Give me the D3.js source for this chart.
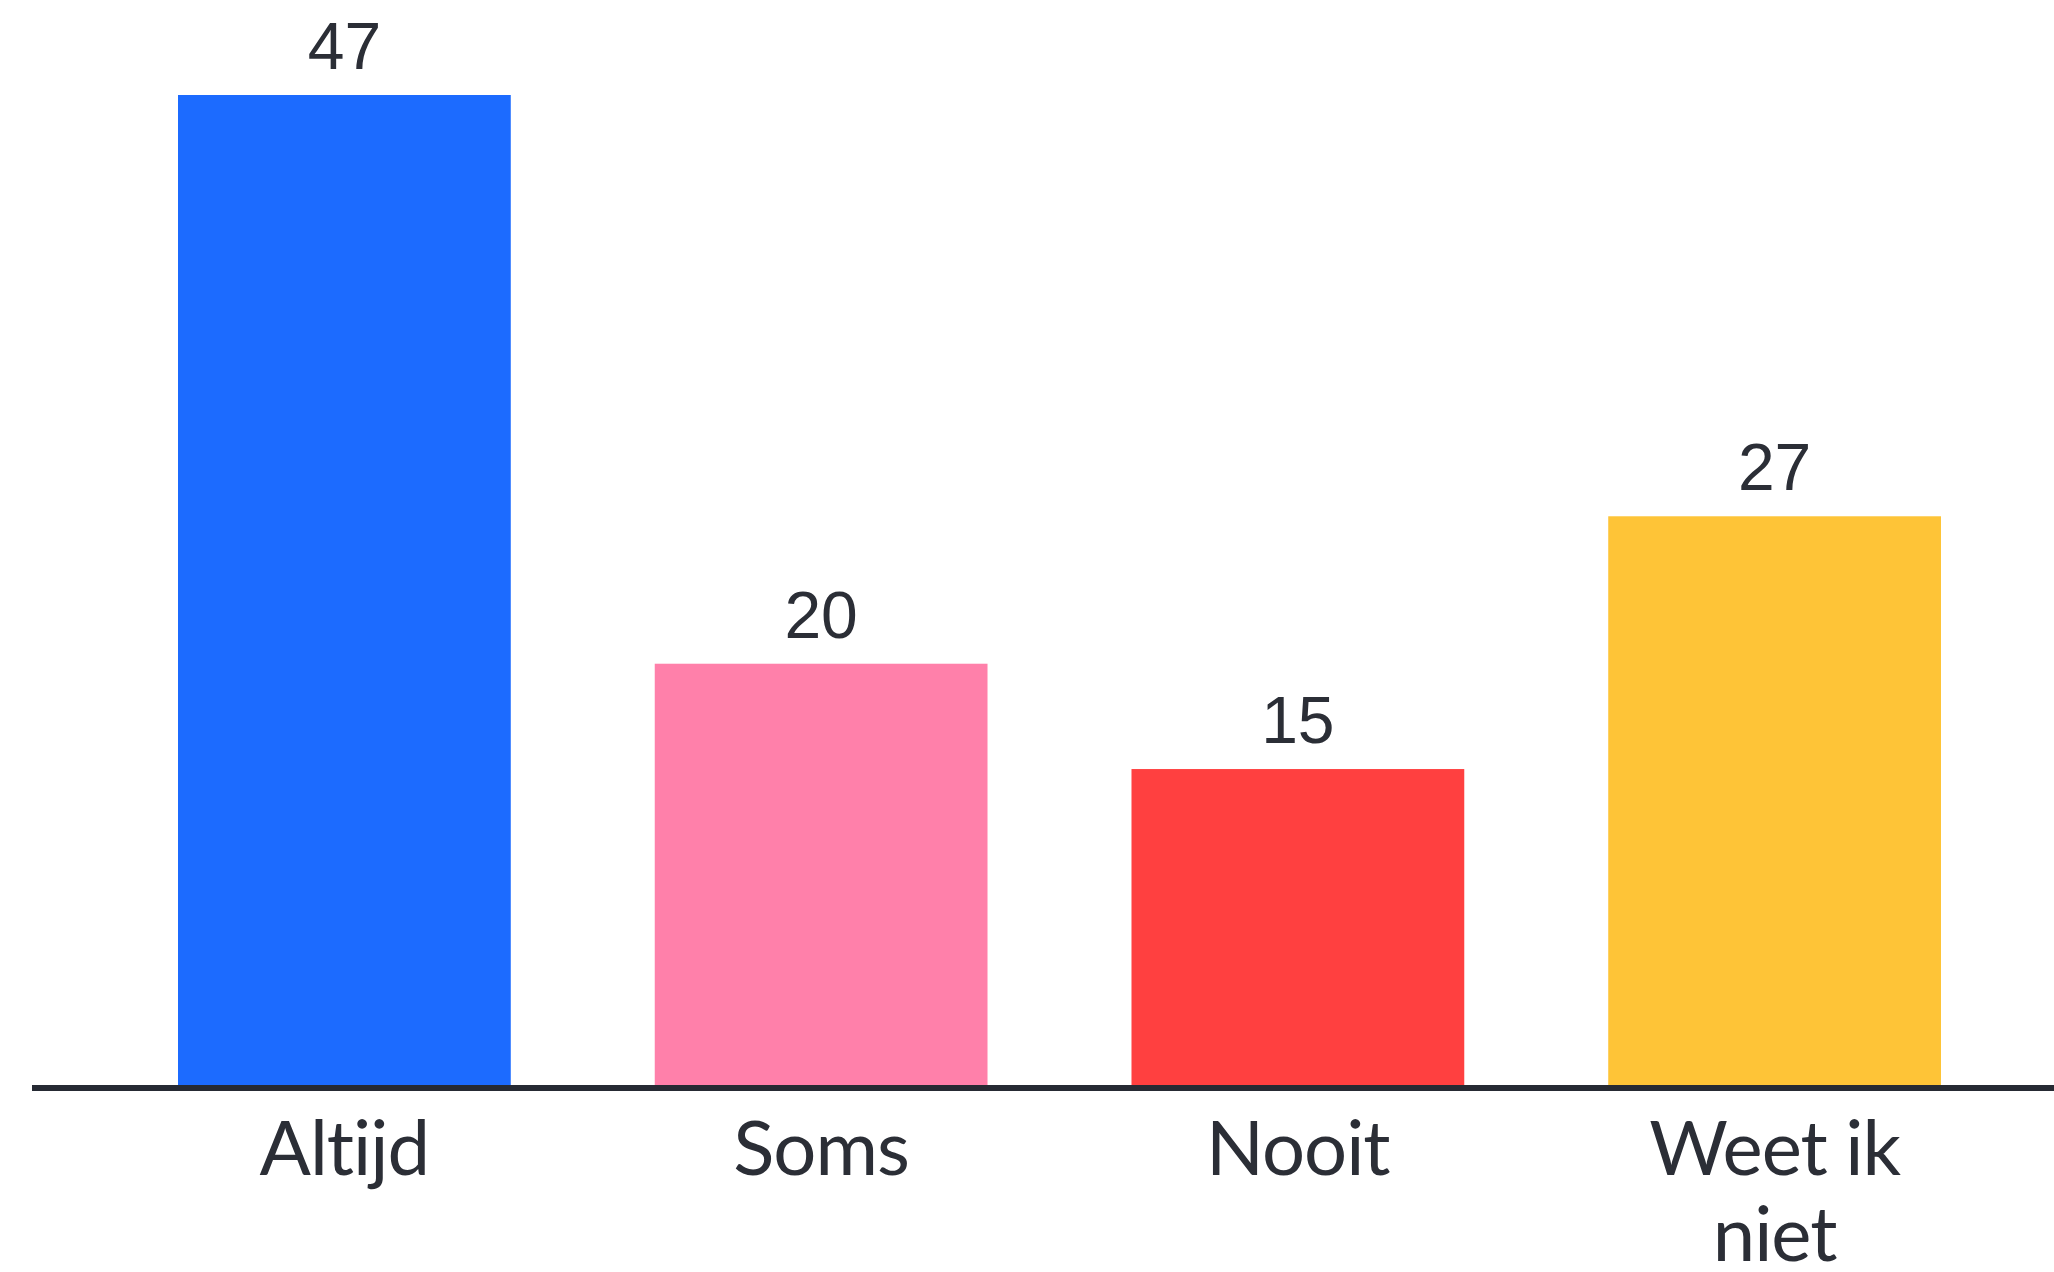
<!DOCTYPE html>
<html>
<head>
<meta charset="utf-8">
<script src="https://cdn.jsdelivr.net/npm/d3@7"></script>
<style>
  html, body { margin: 0; padding: 0; background: #ffffff; }
  svg { display: block; }
  .cat { font-variant-ligatures: none; font-feature-settings: "liga" 0, "clig" 0; }
</style>
</head>
<body>
<svg id="chart" width="2054" height="1272"></svg>
<script>
const categories = ["Altijd", "Soms", "Nooit", "Weet ik niet"];
const categoryLines = [["Altijd"], ["Soms"], ["Nooit"], ["Weet ik", "niet"]];
const values = [47, 20, 15, 27];
const colors = ["#1c6bff", "#ff80aa", "#ff4040", "#fec437"];

const svg = d3.select("#chart");
const W = 2054, H = 1272;
const baseY = 1085;

const x = d3.scaleBand()
  .domain(categories)
  .range([178, 1941])
  .paddingInner(0.302)
  .paddingOuter(0);

const y = d3.scaleLinear()
  .domain([0, 47])
  .range([baseY, 95]);

// bars
svg.append("g").selectAll("rect")
  .data(categories)
  .join("rect")
  .attr("x", d => x(d))
  .attr("width", x.bandwidth())
  .attr("y", (d, i) => y(values[i]))
  .attr("height", (d, i) => baseY - y(values[i]))
  .attr("fill", (d, i) => colors[i]);

// value labels
svg.append("g").selectAll("text")
  .data(categories)
  .join("text")
  .attr("x", d => x(d) + x.bandwidth() / 2)
  .attr("y", (d, i) => y(values[i]) - 26)
  .attr("text-anchor", "middle")
  .attr("font-family", "'Liberation Sans', Arial, sans-serif")
  .attr("font-size", 66)
  .attr("fill", "#2b2e36")
  .text((d, i) => values[i]);

// axis
const axis = d3.axisBottom(x).tickSize(0).tickFormat("");
const ax = svg.append("g").attr("transform", `translate(0,${baseY + 3})`).call(axis);
ax.select(".domain").remove();
ax.append("line")
  .attr("x1", 32).attr("x2", W)
  .attr("y1", 0).attr("y2", 0)
  .attr("stroke", "#262a33")
  .attr("stroke-width", 6);

// category labels
const lbl = svg.append("g").selectAll("text")
  .data(categories)
  .join("text")
  .attr("class", "cat")
  .attr("x", d => x(d) + x.bandwidth() / 2)
  .attr("y", 1175)
  .attr("text-anchor", "middle")
  .attr("font-family", "Lato, 'Open Sans', sans-serif")
  .attr("font-size", 76)
  .attr("letter-spacing", -1)
  .attr("fill", "#2b2e36");
lbl.each(function(d, i) {
  const t = d3.select(this);
  categoryLines[i].forEach((line, j) => {
    t.append("tspan")
      .attr("x", x(d) + x.bandwidth() / 2)
      .attr("dy", j === 0 ? 0 : 86)
      .text(line);
  });
});
</script>
</body>
</html>
